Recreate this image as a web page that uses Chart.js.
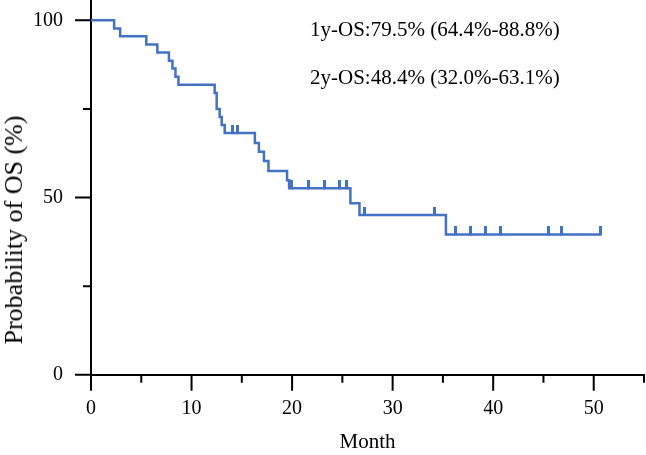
<!DOCTYPE html>
<html lang="en">
<head>
<meta charset="UTF-8">
<title>Probability of OS</title>
<script src="https://cdn.jsdelivr.net/npm/chart.js"></script>
<style>
  html, body { margin: 0; padding: 0; background: #fff; }
  #wrap { position: relative; width: 646px; height: 455px; }
  .note {
    position: absolute;
    font-family: 'Liberation Serif', 'Times New Roman', serif;
    font-size: 21px;
    line-height: 1;
    color: #000;
    white-space: nowrap;
  }
  #ytitle {
    left: 14px;
    top: 230px;
    font-size: 26px;
    transform: translate(-50%, -50%) rotate(-90deg);
  }
</style>
</head>
<body>
<div id="wrap">
  <canvas id="km" width="646" height="455"></canvas>
  <div class="note" style="left:310px; top:19px;">1y-OS:79.5% (64.4%-88.8%)</div>
  <div class="note" style="left:310px; top:67px;">2y-OS:48.4% (32.0%-63.1%)</div>
  <div class="note" id="ytitle">Probability of OS (%)</div>
</div>
<script>
// Kaplan-Meier steps (month, survival %)
const eventMonths = [0, 2.3, 2.9, 5.5, 6.6, 7.75, 8.1, 8.4, 8.7, 12.3, 12.5, 12.8, 13.0, 13.3,
                     16.3, 16.7, 17.2, 17.65, 19.5, 19.7, 25.8, 26.7, 35.3, 50.7];
const survival    = [100, 97.7, 95.5, 93.2, 90.9, 88.6, 86.4, 84.1, 81.8, 79.5, 75.0, 72.7, 70.5, 68.2,
                     65.4, 62.9, 60.3, 57.5, 54.9, 52.6, 48.4, 45.1, 39.6, 39.6];
// censored patients (month)
const censorMonths = [14.1, 14.6, 19.9, 21.6, 23.2, 24.7, 25.4, 27.2, 34.2,
                      36.3, 37.7, 39.2, 40.7, 45.5, 46.8, 50.7];

const xTickLabels = [0, 10, 20, 30, 40, 50];
const xMinorTicks = [5, 15, 25, 35, 45, 55];
const yTickLabels = [0, 50, 100];
const yMinorTicks = [25, 75];

const blue = '#4472C4';
const serif = "'Liberation Serif', 'Times New Roman', serif";

function survivalAt(t) {
  let s = survival[0];
  for (let i = 0; i < eventMonths.length; i++) {
    if (eventMonths[i] <= t) s = survival[i];
  }
  return s;
}

// censor mark: short vertical tick rising from the curve
const censorMark = document.createElement('canvas');
censorMark.width = 3;
censorMark.height = 16;
const cm = censorMark.getContext('2d');
cm.fillStyle = blue;
cm.fillRect(0, 0, 3, 9);

// major / minor tick marks drawn outside the axes
const tickMarks = {
  id: 'tickMarks',
  afterDraw(chart) {
    const {ctx, scales: {x, y}} = chart;
    const bottom = chart.chartArea.bottom;
    const left = chart.chartArea.left;
    ctx.save();
    ctx.strokeStyle = '#000';
    ctx.lineWidth = 2;
    ctx.beginPath();
    xTickLabels.forEach(v => { const p = x.getPixelForValue(v); ctx.moveTo(p, bottom); ctx.lineTo(p, bottom + 16); });
    xMinorTicks.forEach(v => { const p = x.getPixelForValue(v); ctx.moveTo(p, bottom); ctx.lineTo(p, bottom + 8); });
    yTickLabels.forEach(v => { const p = y.getPixelForValue(v); ctx.moveTo(left, p); ctx.lineTo(left - 16, p); });
    yMinorTicks.forEach(v => { const p = y.getPixelForValue(v); ctx.moveTo(left, p); ctx.lineTo(left - 8, p); });
    ctx.stroke();
    ctx.restore();
  }
};

new Chart(document.getElementById('km'), {
  type: 'line',
  data: {
    datasets: [{
      label: 'OS',
      data: eventMonths.map((m, i) => ({x: m, y: survival[i]})),
      stepped: 'before',
      borderColor: blue,
      borderWidth: 2.5,
      pointRadius: 0,
      fill: false,
      clip: false
    }, {
      label: 'Censored',
      type: 'scatter',
      data: censorMonths.map(m => ({x: m, y: survivalAt(m)})),
      pointStyle: censorMark,
      pointRadius: 0.5,
      pointBorderWidth: 0,
      clip: false
    }]
  },
  options: {
    responsive: false,
    animation: false,
    layout: { autoPadding: false, padding: { top: 0, right: 2, bottom: 0, left: 33 } },
    plugins: { legend: { display: false }, tooltip: { enabled: false } },
    scales: {
      x: {
        type: 'linear',
        min: 0,
        max: 55,
        afterBuildTicks: s => { s.ticks = xTickLabels.map(v => ({value: v})); },
        grid: { display: false, drawTicks: true, tickLength: 22 },
        border: { color: '#000', width: 2 },
        ticks: { color: '#000', font: { family: serif, size: 20 }, padding: 0, maxRotation: 0, autoSkip: false },
        title: { display: true, text: 'Month', color: '#000', font: { family: serif, size: 21 }, padding: { top: 9, bottom: 0 } }
      },
      y: {
        type: 'linear',
        min: 0,
        max: 105.6,
        afterBuildTicks: s => { s.ticks = yTickLabels.map(v => ({value: v})); },
        grid: { display: false, drawTicks: true, tickLength: 28 },
        border: { color: '#000', width: 2 },
        ticks: { color: '#000', font: { family: serif, size: 20, lineHeight: 0.05 }, padding: 0 },
        title: { display: false }
      }
    }
  },
  plugins: [tickMarks]
});
</script>
</body>
</html>
